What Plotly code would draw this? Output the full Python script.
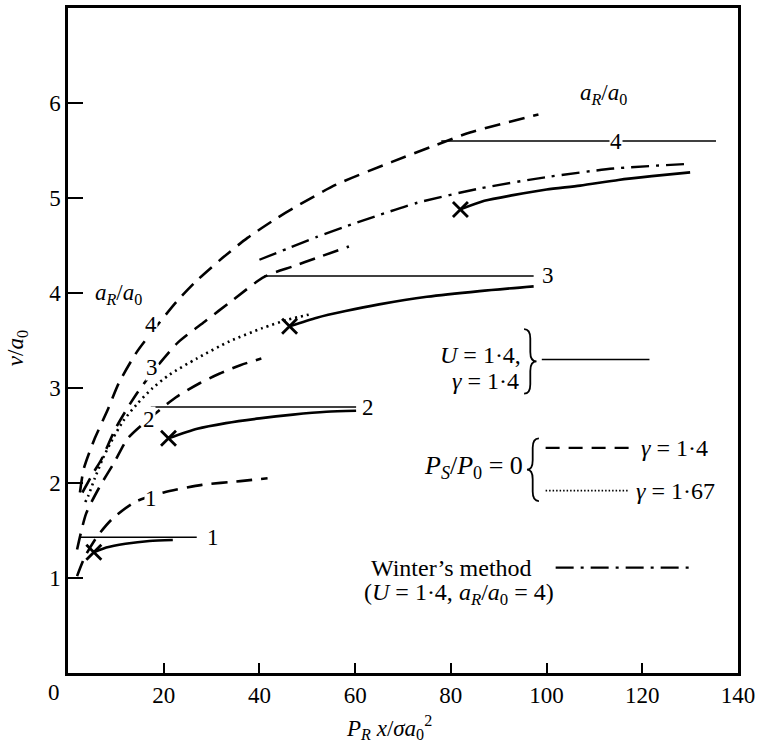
import plotly.graph_objects as go

# ---------------- data ----------------
# P_S/P_0 = 0, gamma = 1.4 (dashed), a_R/a_0 = 1..4
d1_x = [1.9, 3.5, 6.0, 9.2, 14.0, 20.0, 28.0, 36.0, 41.7]
d1_y = [1.02, 1.22, 1.43, 1.62, 1.80, 1.90, 1.98, 2.02, 2.05]
d2_x = [1.9, 3.8, 6.5, 9.7, 12.5, 17.5, 22.5, 27.5, 31.6, 36.0, 40.4]
d2_y = [1.30, 1.68, 1.95, 2.22, 2.47, 2.70, 2.90, 3.05, 3.15, 3.24, 3.31]
d3_x = [3.0, 5.2, 7.0, 10.0, 14.2, 18.5, 23.0, 28.6, 34.3, 41.0, 47.0, 52.0, 58.7]
d3_y = [1.90, 2.10, 2.25, 2.58, 2.93, 3.22, 3.48, 3.70, 3.92, 4.17, 4.28, 4.37, 4.49]
d4_x = [2.5, 3.3, 5.6, 8.3, 10.6, 14.4, 18.5, 22.7, 26.9, 32.3, 37.5, 43.7,
        47.0, 56.0, 67.7, 77.0, 84.0, 98.3]
d4_y = [1.90, 2.15, 2.47, 2.77, 3.05, 3.38, 3.65, 3.91, 4.13, 4.37, 4.58, 4.79,
        4.89, 5.14, 5.38, 5.56, 5.69, 5.88]
# P_S/P_0 = 0, gamma = 1.67 (dotted), a_R/a_0 = 3
dot_x = [3.6, 4.2, 5.6, 7.3, 9.4, 11.5, 14.4, 17.7, 21.2, 26.9, 33.7, 40.6, 46.0, 51.0]
dot_y = [1.80, 1.86, 2.05, 2.26, 2.47, 2.65, 2.83, 3.00, 3.14, 3.31, 3.49, 3.63, 3.72, 3.78]
# U = 1.4, gamma = 1.4 (solid), a_R/a_0 = 1..4 (first point = cross)
s1_x = [5.4, 8.0, 12.0, 17.0, 21.9]
s1_y = [1.27, 1.32, 1.36, 1.39, 1.40]
s2_x = [21.0, 27.0, 33.0, 40.0, 47.0, 54.0, 60.2]
s2_y = [2.47, 2.57, 2.63, 2.68, 2.72, 2.75, 2.76]
s3_x = [46.3, 52.0, 58.0, 65.0, 75.0, 86.0, 97.3]
s3_y = [3.65, 3.74, 3.81, 3.88, 3.96, 4.02, 4.07]
s4_x = [82.0, 87.0, 93.0, 100.0, 107.0, 115.0, 122.0, 130.0]
s4_y = [4.88, 4.97, 5.03, 5.09, 5.13, 5.19, 5.23, 5.27]
# horizontal limit lines, a_R/a_0 = 1..4
h_y = [1.43, 2.80, 4.18, 5.60]
h_x0 = [2.7, 17.3, 41.0, 78.0]
h_x1 = [26.9, 60.2, 97.3, 135.4]
h_labels = ["1", "2", "3", "4"]
# Winter's method (dash-dot), U = 1.4, a_R/a_0 = 4
w_x = [40.0, 46.0, 52.0, 58.0, 65.0, 73.0, 86.0, 100.0, 114.0, 130.0]
w_y = [4.35, 4.47, 4.59, 4.70, 4.82, 4.95, 5.10, 5.22, 5.31, 5.36]

x_ticks = [20, 40, 60, 80, 100, 120, 140]
y_ticks = [1, 2, 3, 4, 5, 6]

FONT = "Liberation Serif"
FS = 23
FK = 24
K = "black"
DASH = "16px,9px"
DOT = "2px,4px"
DASHDOT = "18px,7px,3px,7px"

fig = go.Figure()

def line(x, y, dash="solid", width=2.4, shape="spline"):
    fig.add_trace(go.Scatter(x=x, y=y, mode="lines", showlegend=False, hoverinfo="skip",
                             line=dict(color=K, width=width, dash=dash, shape=shape,
                                       smoothing=0.7)))

for xs, ys in [(d1_x, d1_y), (d2_x, d2_y), (d3_x, d3_y), (d4_x, d4_y)]:
    line(xs, ys, DASH, 2.6)
line(dot_x, dot_y, DOT, 2.6)
line(w_x, w_y, DASHDOT, 2.4)
for xs, ys in [(s1_x, s1_y), (s2_x, s2_y), (s3_x, s3_y), (s4_x, s4_y)]:
    line(xs, ys, "solid", 2.6)
for i in range(4):
    line([h_x0[i], h_x1[i]], [h_y[i], h_y[i]], "solid", 1.5, "linear")

# crosses at start of solid curves
fig.add_trace(go.Scatter(x=[s1_x[0], s2_x[0], s3_x[0], s4_x[0]],
                         y=[s1_y[0], s2_y[0], s3_y[0], s4_y[0]],
                         mode="markers", showlegend=False, hoverinfo="skip",
                         marker=dict(symbol="x-thin", size=15, color=K,
                                     line=dict(width=2.8, color=K))))

ann = []
def txt(x, y, t, size=FS, xanchor="center", bg=None, xref="x", yref="y", angle=0):
    d = dict(x=x, y=y, text=t, showarrow=False, xref=xref, yref=yref,
             xanchor=xanchor, yanchor="middle", textangle=angle,
             font=dict(family=FONT, size=size, color=K))
    if bg:
        d["bgcolor"] = bg
        d["borderpad"] = 0
    ann.append(d)

# labels of horizontal lines
txt(30.2, h_y[0], h_labels[0])
txt(62.7, h_y[1], h_labels[1])
txt(100.2, h_y[2], h_labels[2])
txt(114.6, h_y[3], h_labels[3], bg="white")
# labels of dashed curves
txt(17.4, 1.84, "1", bg="white")
txt(16.9, 2.67, "2", bg="white")
txt(17.6, 3.22, "3", bg="white")
txt(17.4, 3.67, "4", bg="white")
txt(10.5, 3.99, "<i>a<sub>R</sub></i>/<i>a</i><sub>0</sub>")
txt(111.9, 6.09, "<i>a<sub>R</sub></i>/<i>a</i><sub>0</sub>")

# key
txt(95.0, 3.35, "<i>U</i> = 1·4,", size=FK, xanchor="right")
txt(94.7, 3.07, "<i>γ</i> = 1·4", size=FK, xanchor="right")
txt(95.5, 2.17, "<i>P<sub>S</sub></i>/<i>P</i><sub>0</sub> = 0", size=26, xanchor="right")
txt(119.3, 2.37, "<i>γ</i> = 1·4", size=FK, xanchor="left")
txt(118.2, 1.92, "<i>γ</i> = 1·67", size=FK, xanchor="left")
txt(97.3, 1.11, "Winter’s method", size=FK, xanchor="right")
txt(101.9, 0.83, "(<i>U</i> = 1·4, <i>a<sub>R</sub></i>/<i>a</i><sub>0</sub> = 4)",
    size=FK, xanchor="right")

# axis titles and origin label
txt(0.479, -0.082, "<i>P<sub>R</sub> x</i>/<i>σa</i><sub>0</sub><sup>2</sup>",
    xref="paper", yref="paper")
txt(-0.075, 0.488, "<i>v</i>/<i>a</i><sub>0</sub>", xref="paper", yref="paper", angle=-90)
txt(-0.021, -0.029, "0", xref="paper", yref="paper")

brace_r = ("M 95.3,3.62 Q 96.6,3.62 96.6,3.52 L 96.6,3.38 Q 96.6,3.28 97.9,3.28 "
           "Q 96.6,3.28 96.6,3.18 L 96.6,3.04 Q 96.6,2.94 95.3,2.94")
brace_l = ("M 98.4,2.47 Q 97.1,2.47 97.1,2.37 L 97.1,2.24 Q 97.1,2.14 95.9,2.14 "
           "Q 97.1,2.14 97.1,2.04 L 97.1,1.91 Q 97.1,1.81 98.4,1.81")

shapes = [
    dict(type="path", path=brace_r, xref="x", yref="y", line=dict(color=K, width=1.8)),
    dict(type="path", path=brace_l, xref="x", yref="y", line=dict(color=K, width=1.8)),
    dict(type="line", x0=99.0, x1=121.5, y0=3.30, y1=3.30, xref="x", yref="y",
         line=dict(color=K, width=1.6)),
    dict(type="line", x0=99.8, x1=118.8, y0=2.37, y1=2.37, xref="x", yref="y",
         line=dict(color=K, width=2.2, dash="14px,9px")),
    dict(type="line", x0=99.8, x1=117.1, y0=1.92, y1=1.92, xref="x", yref="y",
         line=dict(color=K, width=1.6, dash="1.5px,2px")),
    dict(type="line", x0=101.9, x1=131.0, y0=1.11, y1=1.11, xref="x", yref="y",
         line=dict(color=K, width=2.2, dash=DASHDOT)),
]

fig.update_layout(
    width=760, height=746,
    margin=dict(l=68, r=20, t=5, b=73),
    paper_bgcolor="white", plot_bgcolor="white",
    font=dict(family=FONT, size=FS, color=K),
    annotations=ann, shapes=shapes, showlegend=False,
)
fig.update_xaxes(range=[0, 140], tickvals=x_ticks, ticktext=[str(v) for v in x_ticks],
                 ticks="inside", ticklen=10, tickwidth=2, tickcolor=K,
                 showgrid=False, zeroline=False, showline=True, linecolor=K, linewidth=2.5,
                 mirror=True, tickfont=dict(family=FONT, size=FS, color=K))
fig.update_yaxes(range=[0, 7], tickvals=y_ticks, ticktext=[str(v) for v in y_ticks],
                 ticks="inside", ticklen=15, tickwidth=2, tickcolor=K,
                 showgrid=False, zeroline=False, showline=True, linecolor=K, linewidth=2.5,
                 mirror=True, tickfont=dict(family=FONT, size=FS, color=K))

fig.write_html("out.html", config={"displayModeBar": False},
               post_script="document.body.style.margin='0';document.body.style.overflow='hidden';")
